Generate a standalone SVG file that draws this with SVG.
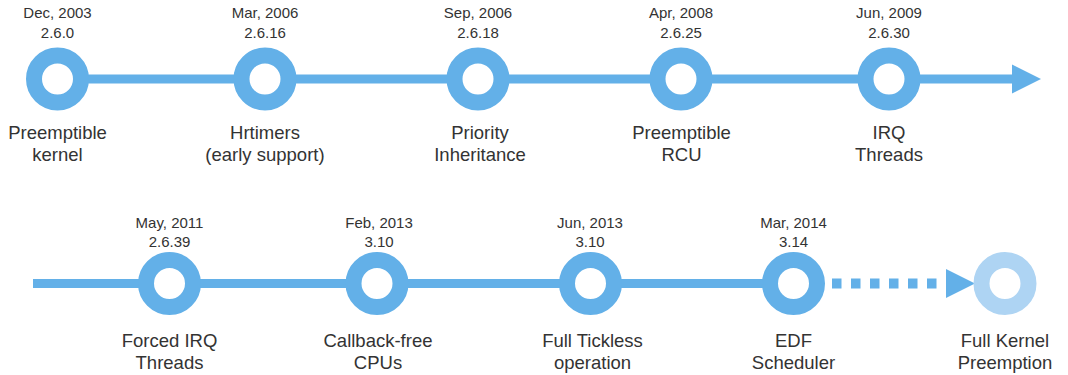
<svg xmlns="http://www.w3.org/2000/svg" width="1068" height="375" viewBox="0 0 1068 375">
<style>
.ring{fill:#fff;stroke:#63b0e8;stroke-width:16}
.ring.future{stroke:#aed4f3}
.line{stroke:#63b0e8;stroke-width:9;fill:none}
.dash{stroke:#63b0e8;stroke-width:10;fill:none;stroke-dasharray:9.5 9.5}
.head{fill:#63b0e8}
.date{font-family:"Liberation Sans",Arial,sans-serif;font-size:15px;fill:#333;text-anchor:middle}
.lbl{font-family:"Liberation Sans",Arial,sans-serif;font-size:18.5px;fill:#333;text-anchor:middle}
</style>
<g id="connectors">
<line class="line" x1="57" y1="79" x2="1014" y2="79"/>
<polygon class="head" points="1012,64.5 1041,79 1012,93.5"/>
<line class="line" x1="33" y1="283.5" x2="794" y2="283.5"/>
<line class="dash" x1="832" y1="283.5" x2="946" y2="283.5"/>
<polygon class="head" points="946,269 975,283.5 946,298"/>
</g>
<g id="n1"><circle class="ring" cx="57.5" cy="79" r="23.5"/>
<text class="date" x="57.5" y="18">Dec, 2003</text><text class="date" x="57.5" y="37.5">2.6.0</text>
<text class="lbl" x="57.5" y="138.5">Preemptible</text><text class="lbl" x="57.5" y="160.5">kernel</text></g>
<g id="n2"><circle class="ring" cx="265" cy="79" r="23.5"/>
<text class="date" x="265" y="18">Mar, 2006</text><text class="date" x="265" y="37.5">2.6.16</text>
<text class="lbl" x="265" y="138.5">Hrtimers</text><text class="lbl" x="265" y="160.5">(early support)</text></g>
<g id="n3"><circle class="ring" cx="478" cy="79" r="23.5"/>
<text class="date" x="478" y="18">Sep, 2006</text><text class="date" x="478" y="37.5">2.6.18</text>
<text class="lbl" x="480" y="138.5">Priority</text><text class="lbl" x="480" y="160.5">Inheritance</text></g>
<g id="n4"><circle class="ring" cx="681" cy="79" r="23.5"/>
<text class="date" x="681" y="18">Apr, 2008</text><text class="date" x="681" y="37.5">2.6.25</text>
<text class="lbl" x="681.5" y="138.5">Preemptible</text><text class="lbl" x="681.5" y="160.5">RCU</text></g>
<g id="n5"><circle class="ring" cx="889" cy="79" r="23.5"/>
<text class="date" x="889" y="18">Jun, 2009</text><text class="date" x="889" y="37.5">2.6.30</text>
<text class="lbl" x="889" y="138.5">IRQ</text><text class="lbl" x="889" y="160.5">Threads</text></g>
<g id="n6"><circle class="ring" cx="169.5" cy="283.5" r="23.5"/>
<text class="date" x="169.5" y="228">May, 2011</text><text class="date" x="169.5" y="247">2.6.39</text>
<text class="lbl" x="169.5" y="347">Forced IRQ</text><text class="lbl" x="169.5" y="368.5">Threads</text></g>
<g id="n7"><circle class="ring" cx="377" cy="283.5" r="23.5"/>
<text class="date" x="379" y="228">Feb, 2013</text><text class="date" x="379" y="247">3.10</text>
<text class="lbl" x="378" y="347">Callback-free</text><text class="lbl" x="378" y="368.5">CPUs</text></g>
<g id="n8"><circle class="ring" cx="590.5" cy="283.5" r="23.5"/>
<text class="date" x="590" y="228">Jun, 2013</text><text class="date" x="590" y="247">3.10</text>
<text class="lbl" x="592.5" y="347">Full Tickless</text><text class="lbl" x="592.5" y="368.5">operation</text></g>
<g id="n9"><circle class="ring" cx="793.5" cy="283.5" r="23.5"/>
<text class="date" x="793.5" y="228">Mar, 2014</text><text class="date" x="793.5" y="247">3.14</text>
<text class="lbl" x="793.5" y="347">EDF</text><text class="lbl" x="793.5" y="368.5">Scheduler</text></g>
<g id="n10"><circle class="ring future" cx="1005" cy="283.5" r="23.5"/>
<text class="lbl" x="1005" y="347">Full Kernel</text><text class="lbl" x="1005" y="368.5">Preemption</text></g>
</svg>
